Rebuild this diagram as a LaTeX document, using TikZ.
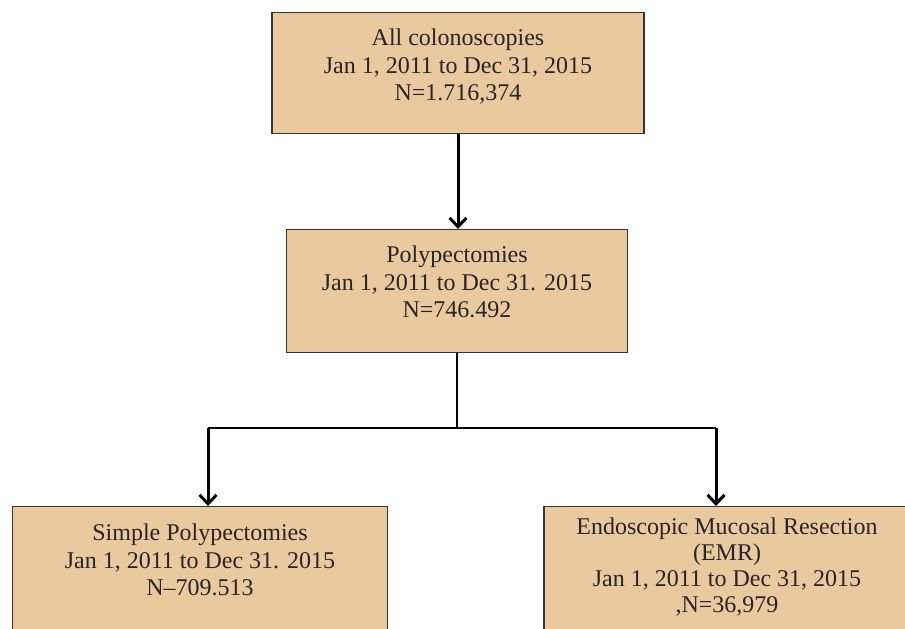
\documentclass[tikz,border=0pt]{standalone}
\usepackage{fontspec}
\setmainfont{Liberation Serif}
\usetikzlibrary{positioning,arrows.meta}
\definecolor{boxtan}{RGB}{235,201,159}
\definecolor{boxline}{RGB}{58,52,46}

\begin{document}
\begin{tikzpicture}[x=1pt,y=-1pt,
        stage/.style={
            draw=boxline, fill=boxtan, line width=1.4pt,
            anchor=north, align=center,
            inner xsep=0pt, inner ysep=0pt,
            font=\fontsize{24}{27.5}\selectfont, text=black!85
        },
        flow/.style={line width=3pt, -{Straight Barb[length=9pt,width=17pt]}},
        link/.style={line width=1.6pt}]
    \useasboundingbox (0,0) rectangle (905,629);
    \clip (0,0) rectangle (905,629);
    \node[stage, minimum width=372pt, text height=88pt, text depth=33pt] (allcol) at (458,12)
        {All colonoscopies\\Jan 1, 2011 to Dec 31, 2015\\N=1.716,374};
    \node[stage, minimum width=341pt, text height=88pt, text depth=35pt] (polyp) at (457,229)
        {Polypectomies\\Jan 1, 2011 to Dec 31. 2015\\N=746.492};
    \node[stage, minimum width=375pt, text height=89pt, text depth=60pt] (simple) at (200,506)
        {Simple Polypectomies\\Jan 1, 2011 to Dec 31. 2015\\N--709.513};
    \node[stage, minimum width=366pt, text height=106pt, text depth=40pt, font=\fontsize{24}{26}\selectfont] (emr) at (727,506)
        {Endoscopic Mucosal Resection\\(EMR)\\Jan 1, 2011 to Dec 31, 2015\\,N=36,979};
    \coordinate (split) at (457,428);
    \coordinate (splitl) at (208,428);
    \coordinate (splitr) at (716,428);
    \draw[flow] (allcol.south) -- (allcol.south |- polyp.north);
    \draw[link] (polyp.south) -- (split);
    \draw[line width=2pt] (splitl) -- (splitr);
    \draw[flow] (splitl) -- (splitl |- simple.north);
    \draw[flow] (splitr) -- (splitr |- emr.north);
\end{tikzpicture}
\end{document}
